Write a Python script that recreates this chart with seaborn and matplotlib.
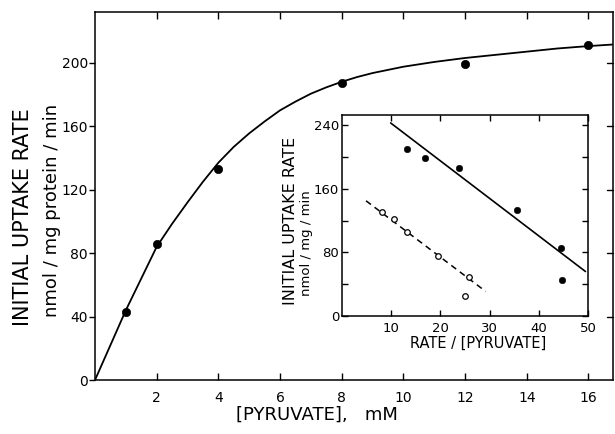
import numpy as np
import pandas as pd
import matplotlib
matplotlib.use("Agg")
import matplotlib.pyplot as plt
import seaborn as sns

# main panel: uptake rate vs pyruvate concentration
pyr_mM = [1, 2, 4, 8, 12, 16]
rate = [43, 86, 133, 187, 199, 211]

# fitted curve
curve_x = [0, 0.5, 1, 1.5, 2, 2.5, 3, 3.5, 4, 4.5, 5, 5.5, 6, 6.5, 7, 7.5,
           8, 8.5, 9, 9.5, 10, 11, 12, 13, 14, 15, 16, 16.8]
curve_y = [0, 22, 44, 64, 84, 98.5, 112, 125, 137, 147, 155.5, 163, 170, 175.5,
           180.5, 184.5, 188, 191, 193.5, 195.5, 197.5, 200.5, 203, 205,
           207, 209, 210.5, 211.5]

# inset: Eadie-Hofstee style plot
closed_x = [13.3, 16.9, 23.7, 35.5, 44.5, 44.8]
closed_y = [210, 199, 186, 133, 86, 45]
closed_line_x = [9.9, 49.5]
closed_line_y = [243, 56]

open_x = [8.1, 10.5, 13.3, 19.5, 25.8, 25.1]
open_y = [131, 122, 106, 76, 49, 25]
open_line_x = [4.9, 29.2]
open_line_y = [145, 31]

sns.set_theme(style="ticks")
plt.rcParams['font.family'] = ['DejaVu Sans']
plt.rcParams['text.color'] = 'black'
plt.rcParams['xtick.color'] = 'black'
plt.rcParams['ytick.color'] = 'black'
plt.rcParams['xtick.labelcolor'] = 'black'
plt.rcParams['ytick.labelcolor'] = 'black'

fig = plt.figure(figsize=(6.15, 4.34), dpi=100)
ax = fig.add_axes([0.1545, 0.1244, 0.8425, 0.848])

sns.lineplot(x=curve_x, y=curve_y, ax=ax, color="black", linewidth=1.3)
sns.scatterplot(x=pyr_mM, y=rate, ax=ax, color="black", s=36, edgecolor="black",
                zorder=3)
ax.set_xlim(0, 16.8)
ax.set_ylim(0, 232)
ax.set_xticks([2, 4, 6, 8, 10, 12, 14, 16])
ax.set_yticks([0, 40, 80, 120, 160, 200])
ax.tick_params(axis="x", direction="in", top=True, length=5, width=1,
               labelsize=10, pad=8)
ax.tick_params(axis="y", direction="out", right=False, length=4, width=1,
               labelsize=10, pad=1)
for s in ax.spines.values():
    s.set_linewidth(1.1)
    s.set_color("black")
# right-side inward ticks
for yv in [40, 80, 120, 160, 200]:
    ax.plot([16.8, 16.6], [yv, yv], color="black", lw=1, clip_on=False)
ax.set_xlabel("")
ax.set_ylabel("")

fig.text(0.515, 0.045, "[PYRUVATE],   mM", ha="center", va="center", fontsize=13)
fig.text(0.038, 0.50, "INITIAL UPTAKE RATE", rotation=90, ha="center",
         va="center", fontsize=15)
fig.text(0.085, 0.515, "nmol / mg protein / min", rotation=90, ha="center",
         va="center", fontsize=13)

# inset
ins = fig.add_axes([0.556, 0.2719, 0.4, 0.4631])
sns.lineplot(x=closed_line_x, y=closed_line_y, ax=ins, color="black",
             linewidth=1.2)
sns.lineplot(x=open_line_x, y=open_line_y, ax=ins, color="black",
             linewidth=1.1, linestyle=(0, (4, 3)))
sns.scatterplot(x=closed_x, y=closed_y, ax=ins, color="black", s=22,
                edgecolor="black", zorder=3)
sns.scatterplot(x=open_x, y=open_y, ax=ins, color="white", s=16,
                edgecolor="black", linewidth=0.9, zorder=3)
ins.set_xlim(0, 50)
ins.set_ylim(0, 253)
ins.set_xticks([10, 20, 30, 40, 50])
ins.set_yticks([0, 40, 80, 120, 160, 200, 240])
ins.set_yticklabels(["0", "", "80", "", "160", "", "240"])
ins.tick_params(axis="both", direction="in", top=True, right=True, length=4,
                width=1, labelsize=9.5, pad=4)
ins.tick_params(axis="y", pad=2)
for s in ins.spines.values():
    s.set_linewidth(1.1)
    s.set_color("black")
ins.set_xlabel("")
ins.set_ylabel("")

fig.text(0.777, 0.21, "RATE / [PYRUVATE]", ha="center", va="center",
         fontsize=10.5)
fig.text(0.472, 0.49, "INITIAL UPTAKE RATE", rotation=90, ha="center",
         va="center", fontsize=11.5)
fig.text(0.499, 0.44, "nmol / mg / min", rotation=90, ha="center",
         va="center", fontsize=9.5)

fig.savefig("out.png", dpi=100)
